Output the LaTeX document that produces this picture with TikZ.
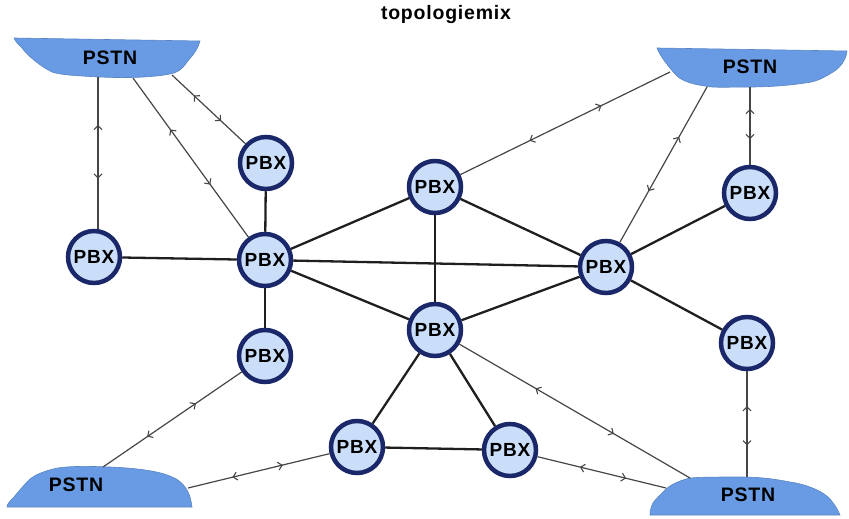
\documentclass[tikz,border=0pt]{standalone}
\usepackage{fontspec}
\setmainfont{Liberation Sans}[LetterSpace=4]
\usetikzlibrary{arrows.meta,decorations.markings}
\definecolor{pbxfill}{RGB}{202,222,250}
\definecolor{pbxline}{RGB}{26,40,105}
\definecolor{pstnfill}{RGB}{105,155,228}
\definecolor{trunkgray}{RGB}{70,70,70}
\tikzset{
  pbx/.style={circle, draw=pbxline, line width=4.5pt, fill=pbxfill,
    minimum size=52pt, inner sep=0pt,
    font=\fontsize{19}{19}\selectfont\bfseries},
  pstnlabel/.style={inner sep=0pt, font=\fontsize{19.5}{19.5}\selectfont\bfseries},
  pstnshape/.style={fill=pstnfill, draw=pstnfill!85!black, line width=0.6pt},
  link/.style={line width=2.3pt, draw=black!88},
  trunkline/.style={draw=trunkgray, line width=1.2pt, postaction={decorate},
    decoration={markings,
      mark=at position 0.35 with {\arrow{Straight Barb[reversed,length=4pt,width=8pt,line width=1.1pt]}},
      mark=at position 0.67 with {\arrow{Straight Barb[length=4pt,width=8pt,line width=1.1pt]}}}}
}
\begin{document}
\begin{tikzpicture}[x=1pt,y=-1pt]
\useasboundingbox (0,0) rectangle (849,519);

% title
\node[font=\fontsize{19.5}{19.5}\selectfont\bfseries] (title) at (446,15) {topologiemix};

% PSTN clouds
\path[pstnshape] (14,38) -- (200,41)
  .. controls (197,52) and (190,58) .. (187,62)
  .. controls (182,70) and (176,73) .. (170,74)
  .. controls (150,78) and (120,78) .. (100,77)
  .. controls (80,76) and (60,75) .. (52,72)
  .. controls (40,66) and (28,56) .. (22,48)
  .. controls (18,44) and (15,41) .. (14,38) -- cycle;
\node[pstnlabel] (tl) at (110,58) {PSTN};

\path[pstnshape] (657,48) -- (847,51)
  .. controls (846,60) and (840,68) .. (833,72)
  .. controls (822,79) and (815,82) .. (805,83)
  .. controls (785,86) and (765,87) .. (750,87)
  .. controls (730,87) and (712,88) .. (705,86)
  .. controls (690,84) and (680,80) .. (675,74)
  .. controls (668,66) and (660,56) .. (657,48) -- cycle;
\node[pstnlabel] (tr) at (750,67) {PSTN};

\path[pstnshape] (7,507) -- (192,507)
  .. controls (191,500) and (190,496) .. (188,492)
  .. controls (184,484) and (178,479) .. (172,477)
  .. controls (160,471) and (135,468) .. (110,467)
  .. controls (85,466) and (65,466) .. (53,469)
  .. controls (42,472) and (35,475) .. (30,479)
  .. controls (24,485) and (18,492) .. (14,497)
  .. controls (10,501) and (7,504) .. (7,507) -- cycle;
\node[pstnlabel] (bl) at (76,485) {PSTN};

\path[pstnshape] (650,515) -- (840,515)
  .. controls (838,510) and (834,503) .. (828,497)
  .. controls (820,490) and (805,484) .. (790,482)
  .. controls (775,479) and (760,477) .. (740,477)
  .. controls (720,477) and (700,477) .. (690,478)
  .. controls (678,481) and (670,485) .. (665,490)
  .. controls (660,495) and (655,500) .. (653,503)
  .. controls (651,507) and (650,511) .. (650,515) -- cycle;
\node[pstnlabel] (br) at (748,495) {PSTN};

% PBX exchanges
\node[pbx] (p1)  at (266,163) {PBX};
\node[pbx] (p2)  at (94,257)  {PBX};
\node[pbx] (p3)  at (265,260) {PBX};
\node[pbx] (p4)  at (265,356) {PBX};
\node[pbx] (p5)  at (435,187) {PBX};
\node[pbx] (p6)  at (606,267) {PBX};
\node[pbx] (p7)  at (435,330) {PBX};
\node[pbx] (p8)  at (750,193) {PBX};
\node[pbx] (p9)  at (747,343) {PBX};
\node[pbx] (p10) at (357,447) {PBX};
\node[pbx] (p11) at (510,450) {PBX};

% attachment points on the clouds
\coordinate (tl-a) at (98,77);
\coordinate (tl-b) at (133,78);
\coordinate (tl-c) at (172,75);
\coordinate (tr-a) at (670,72);
\coordinate (tr-b) at (707,87);
\coordinate (tr-c) at (750,87);
\coordinate (bl-a) at (103,467);
\coordinate (bl-b) at (188,488);
\coordinate (br-a) at (690,478);
\coordinate (br-b) at (666,488);
\coordinate (br-c) at (747,477);

% tie lines between exchanges
\draw[link] (p1) -- (p3);
\draw[link] (p2) -- (p3);
\draw[link] (p3) -- (p4);
\draw[link] (p3) -- (p5);
\draw[link] (p3) -- (p6);
\draw[link] (p3) -- (p7);
\draw[link] (p5) -- (p7);
\draw[link] (p5) -- (p6);
\draw[link] (p7) -- (p6);
\draw[link] (p6) -- (p8);
\draw[link] (p6) -- (p9);
\draw[link] (p7) -- (p10);
\draw[link] (p7) -- (p11);
\draw[link] (p10) -- (p11);

% trunks to the public network
\draw[trunkline] (tl-a) -- (tl-a |- p2.north);
\draw[trunkline] (tl-b) -- (p3);
\draw[trunkline] (tl-c) -- (p1);
\draw[trunkline] (tr-a) -- (p5);
\draw[trunkline] (tr-b) -- (p6);
\draw[trunkline] (tr-c) -- (p8);
\draw[trunkline] (bl-a) -- (p4);
\draw[trunkline] (bl-b) -- (p10);
\draw[trunkline] (br-a) -- (p7);
\draw[trunkline] (br-b) -- (p11);
\draw[trunkline] (br-c) -- (p9);
\end{tikzpicture}
\end{document}
